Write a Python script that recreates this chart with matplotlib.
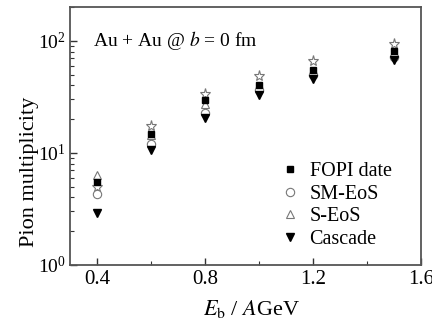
import matplotlib
matplotlib.use("Agg")
import matplotlib.pyplot as plt
from matplotlib.ticker import LogLocator, FixedLocator, NullFormatter

plt.rcParams['font.family'] = ['Liberation Serif', 'DejaVu Serif']
plt.rcParams['mathtext.fontset'] = 'stix'

energy = [0.4, 0.6, 0.8, 1.0, 1.2, 1.5]
fopi = [5.5, 14.8, 29.9, 40.6, 55.2, 80.4]
sm_eos = [4.3, 11.9, 22.7, 36.7, 49.9, 72.4]
s_eos = [6.35, 14.5, 27.5, 38.5, 52.3, 77.7]
cascade = [2.9, 10.5, 20.6, 33.1, 46.0, 67.8]
star_series = [5.0, 17.3, 33.6, 48.9, 66.4, 94.0]

fig = plt.figure(figsize=(4.32, 3.25), dpi=100)
ax = fig.add_axes([0.162, 0.185, 0.8125, 0.793])

gray = '#777777'
ax.plot(energy, star_series, linestyle='none', marker='*', markersize=8,
        markerfacecolor='white', markeredgecolor=gray, markeredgewidth=0.8)
ax.plot(energy, s_eos, linestyle='none', marker='^', markersize=6,
        markerfacecolor='white', markeredgecolor=gray, markeredgewidth=0.8, label='S-EoS')
ax.plot(energy, sm_eos, linestyle='none', marker='o', markersize=6,
        markerfacecolor='white', markeredgecolor=gray, markeredgewidth=0.8, label='SM-EoS')
ax.plot(energy, fopi, linestyle='none', marker='s', markersize=5,
        color='black', label='FOPI date')
ax.plot(energy, cascade, linestyle='none', marker='v', markersize=6,
        color='black', label='Cascade')

ax.set_yscale('log')
ax.set_xlim(0.3, 1.6)
ax.set_ylim(1, 200)
ax.xaxis.set_major_locator(FixedLocator([0.4, 0.8, 1.2, 1.6]))
ax.xaxis.set_minor_locator(FixedLocator([0.6, 1.0, 1.4]))
ax.yaxis.set_major_locator(LogLocator(base=10, numticks=5))
ax.yaxis.set_minor_locator(LogLocator(base=10, subs=range(2, 10), numticks=20))
ax.yaxis.set_minor_formatter(NullFormatter())

ax.tick_params(which='both', direction='in', top=False, right=False,
               color='#333333')
ax.tick_params(axis='x', labelsize=15, pad=4)
ax.tick_params(axis='y', labelsize=14, pad=3)
ax.tick_params(which='major', length=5, width=1)
ax.tick_params(which='minor', length=3, width=0.8)

for s in ax.spines.values():
    s.set_color('#555555')
    s.set_linewidth(1.3)

ax.set_xlabel(r'$E_{\rm b}$ / $A$GeV', fontsize=16)
ax.set_ylabel('Pion multiplicity', fontsize=16)
ax.xaxis.set_label_coords(0.516, -0.128)
ax.yaxis.set_label_coords(-0.088, 0.36)

ax.text(0.065, 0.87, r'Au + Au @ $b$ = 0 fm', transform=ax.transAxes,
        fontsize=14, ha='left', va='center')

h, l = ax.get_legend_handles_labels()
order = [l.index('FOPI date'), l.index('SM-EoS'), l.index('S-EoS'), l.index('Cascade')]
ax.legend([h[i] for i in order], [l[i] for i in order], loc='upper left',
          frameon=False, fontsize=14.5, handlelength=0.8, handletextpad=0.55,
          labelspacing=0.18, borderpad=0, borderaxespad=0,
          bbox_to_anchor=(0.605, 0.40))

fig.savefig('out.png', dpi=100)
